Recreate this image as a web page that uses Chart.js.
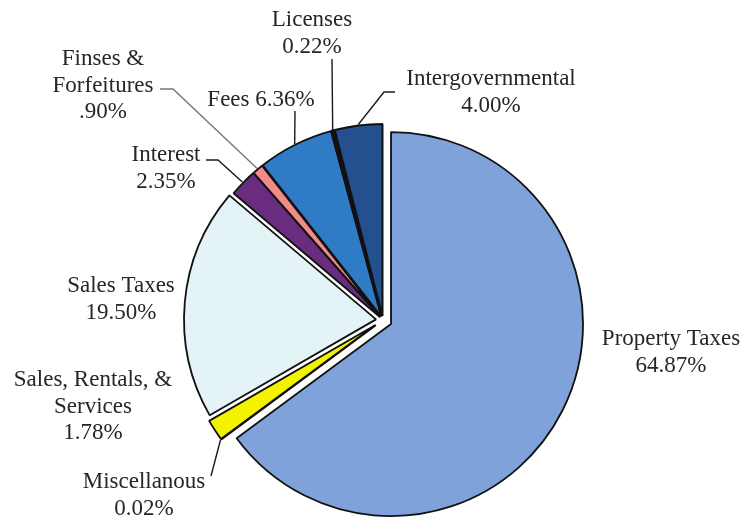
<!DOCTYPE html>
<html>
<head>
<meta charset="utf-8">
<script src="https://cdn.jsdelivr.net/npm/chart.js@4/dist/chart.umd.min.js"></script>
<style>
  html, body { margin: 0; padding: 0; background: #fff; }
  #wrap { width: 746px; height: 519px; }
</style>
</head>
<body>
<div id="wrap"><canvas id="revenueChart" width="746" height="519"></canvas></div>
<script>
// data, clockwise from 12 o'clock
const categories = [
  "Property Taxes",
  "Miscellanous",
  "Sales, Rentals, & Services",
  "Sales Taxes",
  "Interest",
  "Finses & Forfeitures",
  "Fees",
  "Licenses",
  "Intergovernmental",
];
const percents = [64.87, 0.02, 1.78, 19.5, 2.35, 0.9, 6.36, 0.22, 4.0];
const percentText = ["64.87%", "0.02%", "1.78%", "19.50%", "2.35%", ".90%", "6.36%", "0.22%", "4.00%"];

const sliceColors = [
  "#7fa2da", "#8a84c8", "#f3f300", "#e3f3f6", "#6a2c7e",
  "#f28a8a", "#2f7bc6", "#141414", "#24508f",
];
const borderWidths = [1.8, 1.8, 1.8, 1.8, 1.8, 1.8, 1.8, 2.6, 2];
// how far each slice is pulled out, px
const explode = [9, 9, 9, 7, 4, 4, 4, 4, 4];

// label text lines, centre x, first baseline, leader line points (ends at slice edge)
const labelLayout = [
  { lines: ["Property Taxes", "64.87%"], x: 671, y: 345, leader: null },
  { lines: ["Miscellanous", "0.02%"], x: 144, y: 488, leader: [[211, 476]] },
  { lines: ["Sales, Rentals, &", "Services", "1.78%"], x: 93, y: 386, leader: null },
  { lines: ["Sales Taxes", "19.50%"], x: 121, y: 292, leader: null },
  { lines: ["Interest", "2.35%"], x: 166, y: 161, leader: [[206, 160], [218, 160]] },
  { lines: ["Finses &", "Forfeitures", ".90%"], x: 103, y: 65, leader: [[160, 89], [173, 89]], leaderColor: "#777" },
  { lines: ["Fees 6.36%"], x: 261, y: 106, leader: [[295, 111]] },
  { lines: ["Licenses", "0.22%"], x: 312, y: 26, leader: [[332, 59]] },
  { lines: ["Intergovernmental", "4.00%"], x: 491, y: 85, leader: [[395, 92], [384, 92]] },
];

const explodePlugin = {
  id: "explode",
  afterDatasetUpdate(chart, args) {
    const meta = chart.getDatasetMeta(args.index);
    meta.data.forEach((arc, i) => {
      const mid = (arc.startAngle + arc.endAngle) / 2;
      arc.x += Math.cos(mid) * explode[i];
      arc.y += Math.sin(mid) * explode[i];
    });
  },
};

const labelPlugin = {
  id: "sliceLabels",
  afterDatasetsDraw(chart) {
    const ctx = chart.ctx;
    const arcs = chart.getDatasetMeta(0).data;
    ctx.save();
    arcs.forEach((arc, i) => {
      const lab = labelLayout[i];
      if (lab.leader) {
        const mid = (arc.startAngle + arc.endAngle) / 2;
        const r = arc.outerRadius + 1;
        ctx.beginPath();
        ctx.moveTo(lab.leader[0][0], lab.leader[0][1]);
        lab.leader.slice(1).forEach((p) => ctx.lineTo(p[0], p[1]));
        ctx.lineTo(arc.x + Math.cos(mid) * r, arc.y + Math.sin(mid) * r);
        ctx.strokeStyle = lab.leaderColor || "#1a1a1a";
        ctx.lineWidth = 1.4;
        ctx.stroke();
      }
      ctx.fillStyle = "#262626";
      ctx.font = "23px 'Liberation Serif', 'Times New Roman', serif";
      ctx.textAlign = "center";
      ctx.textBaseline = "alphabetic";
      lab.lines.forEach((t, k) => ctx.fillText(t, lab.x, lab.y + k * 26.5));
    });
    ctx.restore();
  },
};

new Chart(document.getElementById("revenueChart"), {
  type: "pie",
  data: {
    labels: categories,
    datasets: [
      {
        data: percents,
        backgroundColor: sliceColors,
        borderColor: "#111",
        borderWidth: borderWidths,
        radius: 192,
      },
    ],
  },
  options: {
    responsive: false,
    animation: false,
    layout: { padding: { left: 20, right: 0, top: 121, bottom: 0 } },
    plugins: {
      legend: { display: false },
      tooltip: { enabled: false },
    },
  },
  plugins: [explodePlugin, labelPlugin],
});
</script>
</body>
</html>
